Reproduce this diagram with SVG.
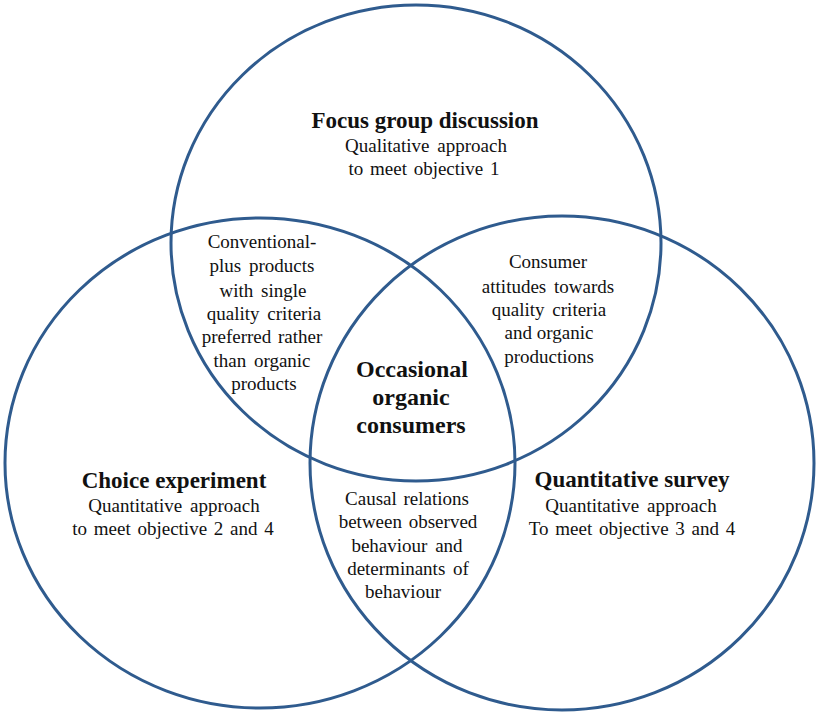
<svg xmlns="http://www.w3.org/2000/svg" width="816" height="715" viewBox="0 0 816 715">
<style>
.c{fill:none;stroke:#2f5b8e;stroke-width:3}
text{font-family:"Liberation Serif","Times New Roman",serif;fill:#111;text-anchor:middle}
.h{font-weight:bold;font-size:23px}
.m{font-weight:bold;font-size:24px}
.t{font-size:19px}
</style>
<rect width="816" height="715" fill="#fff"/>
<g id="focus-group">
<ellipse class="c" cx="416" cy="243" rx="245" ry="238"/>
<text class="h" x="425" y="128">Focus group discussion</text>
<text class="t" x="426" y="152" word-spacing="3">Qualitative approach</text>
<text class="t" x="424" y="175" word-spacing="2">to meet objective 1</text>
</g>
<g id="choice-experiment">
<ellipse class="c" cx="260" cy="463" rx="255" ry="245"/>
<text class="h" x="174" y="488">Choice experiment</text>
<text class="t" x="174" y="512" word-spacing="3">Quantitative approach</text>
<text class="t" x="173" y="535" word-spacing="2">to meet objective 2 and 4</text>
</g>
<g id="quantitative-survey">
<ellipse class="c" cx="562" cy="463" rx="252" ry="247"/>
<text class="h" x="632" y="487">Quantitative survey</text>
<text class="t" x="631" y="512" word-spacing="3">Quantitative approach</text>
<text class="t" x="632" y="535" word-spacing="2">To meet objective 3 and 4</text>
</g>
<g id="overlap-focus-choice">
<text class="t" x="262" y="248">Conventional-</text>
<text class="t" x="262" y="272" word-spacing="3">plus products</text>
<text class="t" x="263" y="297" word-spacing="3">with single</text>
<text class="t" x="264" y="320" word-spacing="3">quality criteria</text>
<text class="t" x="262" y="343" word-spacing="2">preferred rather</text>
<text class="t" x="262" y="367" word-spacing="3">than organic</text>
<text class="t" x="264" y="390">products</text>
</g>
<g id="overlap-focus-survey">
<text class="t" x="548" y="268">Consumer</text>
<text class="t" x="548" y="293" word-spacing="3">attitudes towards</text>
<text class="t" x="549" y="316" word-spacing="3">quality criteria</text>
<text class="t" x="549" y="339">and organic</text>
<text class="t" x="549" y="363">productions</text>
</g>
<g id="overlap-choice-survey">
<text class="t" x="407" y="505" word-spacing="2">Causal relations</text>
<text class="t" x="408" y="528" word-spacing="2">between observed</text>
<text class="t" x="407" y="552" word-spacing="3">behaviour and</text>
<text class="t" x="408" y="575" word-spacing="3">determinants of</text>
<text class="t" x="403" y="598">behaviour</text>
</g>
<g id="center">
<text class="m" x="412" y="377">Occasional</text>
<text class="m" x="411" y="405">organic</text>
<text class="m" x="411" y="433">consumers</text>
</g>
</svg>
